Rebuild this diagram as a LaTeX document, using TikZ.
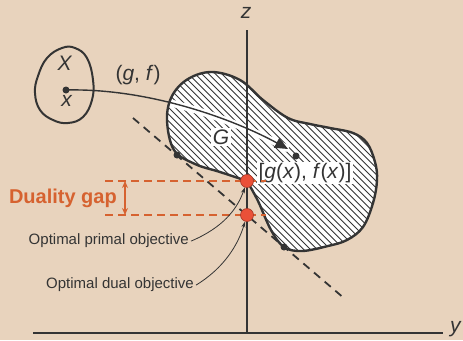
\documentclass[tikz,border=0pt]{standalone}
\usepackage{fontspec}
\setmainfont{Liberation Sans}
\usetikzlibrary{arrows.meta}
\definecolor{bg}{RGB}{232,211,189}
\definecolor{ink}{RGB}{52,52,52}
\definecolor{gaporange}{RGB}{214,98,48}
\definecolor{dotred}{RGB}{234,80,56}
\def\Gpath{plot[smooth,tension=0.6] coordinates{(247,181) (258,201) (271,230) (284,247) (302,251) (328,246) (347,240) (363,227) (373,203) (377,180) (375,162) (367,143) (353,133) (330,128) (310,124) (288,118) (263,100) (240,80) (212,72) (188,79) (172,96) (167,120) (174,150) (195,164) (220,172) (247,181)} -- cycle}
\begin{document}
\begin{tikzpicture}[x=1pt,y=-1pt,
  mathlbl/.style={font=\fontsize{21}{25}\selectfont, text=ink, inner sep=1pt},
  smalllbl/.style={font=\fontsize{15}{18}\selectfont, text=ink, inner sep=1pt},
  blackdot/.style={circle, fill=ink, minimum size=7pt, inner sep=0pt},
  reddot/.style={circle, fill=dotred, draw=dotred!70!black, line width=0.6pt, minimum size=13pt, inner sep=0pt},
  axisline/.style={draw=ink, line width=1.6pt},
  outline/.style={draw=ink, line width=2.4pt, line join=round},
  hatchline/.style={draw=ink, line width=0.9pt},
  pointer/.style={draw=ink, line width=0.8pt, -{Stealth[length=6pt,width=4pt]}},
  gapline/.style={draw=gaporange, line width=1.6pt, dash pattern=on 8pt off 5pt},
  tangent/.style={draw=ink, line width=1.8pt, dash pattern=on 8pt off 6pt}]
\fill[bg] (0,0) rectangle (463,340);
\useasboundingbox (0,0) rectangle (463,340);

% set X
\draw[outline, line width=2pt] plot[smooth cycle, tension=0.7] coordinates{(62,48) (75,48) (87,58) (93,80) (92,100) (83,117) (68,123) (53,120) (40,110) (35,93) (38,76) (47,58)};
\node[mathlbl] (Xl) at (65,63) {\textit{X}};
\node[blackdot] (xdot) at (66,90) {};
\node[mathlbl] (xl) at (67,101) {\textit{x}};

% region G
\fill[white] \Gpath;
\begin{scope}
  \clip \Gpath;
  \foreach \k in {0,...,64} \draw[hatchline] ({-100+\k*6.7},40) -- ++(260,260);
  \draw[white, line width=7pt] (66,90) .. controls (150,88) and (235,120) .. (288,149);
\end{scope}
\draw[outline] \Gpath;

% axes
\coordinate (ztop) at (247,30);
\coordinate (origin) at (247,333);
\coordinate (yend) at (443,333);
\coordinate (yleft) at (33,333);
\draw[axisline] (ztop) -- (origin);
\draw[axisline] (yleft) -- (yend);
\node[mathlbl] (zl) at (246,13) {\textit{z}};
\node[mathlbl] (yl) at (456,329) {\textit{y}};

% map arrow
\node[blackdot] (gx) at (296,156) {};
\coordinate (gxtip) at (288,149);
\draw[draw=ink, line width=1.4pt, -{Triangle[length=13pt,width=11pt]}] (xdot.center) .. controls (150,88) and (235,120) .. (gxtip);
\node[mathlbl] (gfl) at (138,75) {(\textit{g}, \textit{f})};
\node[mathlbl, fill=white, inner sep=2pt] (Gl) at (221,137) {\textit{G}};
\node[mathlbl, fill=white, inner sep=1.5pt] (gxl) at (305,173) {[\textit{g}(\textit{x}), \textit{f}(\textit{x})]};

% tangent dashed line
\coordinate (tA) at (133,118);
\coordinate (tB) at (345,299);
\draw[tangent] (tA) -- (tB);
\node[blackdot] (t1) at (177,155) {};
\node[blackdot] (t2) at (284,247) {};

% duality gap
\coordinate (g1a) at (105,181);
\coordinate (g1b) at (266,181);
\coordinate (g2a) at (105,215);
\coordinate (g2b) at (266,215);
\draw[gapline] (g1a) -- (g1b);
\draw[gapline] (g2a) -- (g2b);
\coordinate (ga) at (125,181);
\coordinate (gb) at (125,215);
\draw[draw=gaporange, line width=1.5pt, {Stealth[length=7pt,width=6pt]}-{Stealth[length=7pt,width=6pt]}] (ga) -- (gb);
\node[font=\fontsize{20}{24}\selectfont\bfseries, text=gaporange, anchor=east, inner sep=0pt] (gapl) at (117,198) {Duality gap};

% optimal points
\node[reddot] (primal) at (247,181) {};
\node[reddot] (dual) at (247,215) {};

\node[smalllbl, anchor=base east] (lprimal) at (190,244) {Optimal primal objective};
\node[smalllbl, anchor=base east] (ldual) at (195,288) {Optimal dual objective};
\draw[pointer] ([xshift=1pt,yshift=-1pt]lprimal.east) .. controls (222,228) and (237,210) .. (primal);
\draw[pointer] ([xshift=1pt,yshift=-1pt]ldual.east) .. controls (224,268) and (238,245) .. (dual);
\end{tikzpicture}
\end{document}
